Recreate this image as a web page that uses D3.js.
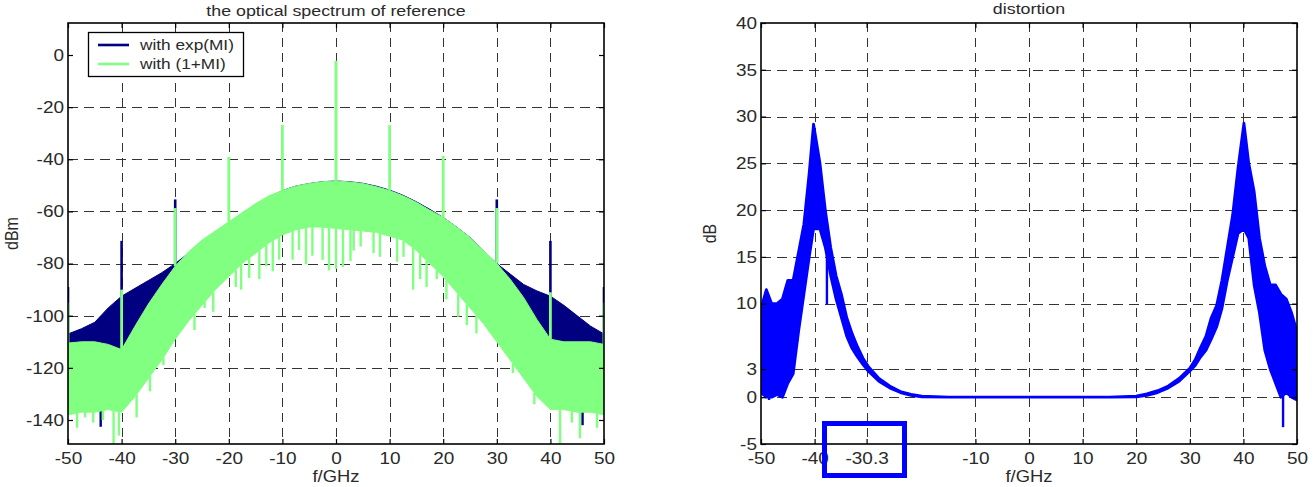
<!DOCTYPE html>
<html>
<head>
<meta charset="utf-8">
<script src="https://cdn.jsdelivr.net/npm/d3@7"></script>
<style>
  body { margin: 0; background: #fff; }
  svg { display: block; font-family: "Liberation Sans", Arial, sans-serif; }
</style>
</head>
<body>
<svg id="fig" width="1314" height="487"></svg>
<script>
// ---------------------------------------------------------------
// Data.
// ---------------------------------------------------------------

// Left plot: optical spectrum, envelope of the dense traces (GHz / dBm).
var specFreq = [-50, -47.5, -45, -42.5, -40, -37.5, -35, -32.5, -30, -27.5, -25, -22.5, -20,
    -17.5, -15, -12.5, -10, -7.5, -5, -2.5, 0, 2.5, 5, 7.5, 10, 12.5, 15, 17.5, 20,
    22.5, 25, 27.5, 30, 32.5, 35, 37.5, 40, 42.5, 45, 47.5, 50];

// with exp(MI)
var expUpper = [-107, -105, -102.5, -97, -92.5, -89.5, -86.5, -83.5, -80, -76, -72, -68, -64.5,
    -61, -57.5, -54.5, -52, -50.3, -49.3, -48.6, -48.3, -48.6, -49.2, -50.3, -51.8, -53.8, -56.3, -59.2, -62.3,
    -66, -70, -75, -80, -84, -88, -90.5, -92.5, -96, -100, -104, -107];
var expLower = [-113, -113, -113, -113, -114, -108, -100, -92, -86, -80, -76, -72, -69,
    -66, -63, -60, -58, -56, -55, -55, -55, -55, -55, -56, -58, -60, -63, -66, -69,
    -72, -76, -81, -87, -94, -101, -108, -113, -113, -113, -113, -113];

// with (1+MI)
var linUpper = [-110.5, -110, -110, -111, -113, -104, -95.5, -88, -81, -75.5, -71, -67.5, -64,
    -60.5, -57, -54, -52, -50.3, -49.3, -48.6, -48.3, -48.7, -49.3, -50.5, -52, -54, -56.5, -59.5, -62.3,
    -66, -70, -75, -80, -86, -93, -101.5, -109, -110, -110, -110, -111];
var linLower = [-138, -137, -137, -136, -137, -131, -124, -117, -109, -102, -96, -90, -85,
    -80, -76, -72, -69, -67, -66, -66, -66.5, -67, -67.5, -68, -69.5, -71, -75, -80, -85,
    -91, -97, -103, -110, -117, -124, -131, -136, -136, -137, -137, -138];

// discrete carrier lines (frequency, peak level)
var expLineF = [-50, -40, -30, 30, 40, 50];
var expLineTop = [-89, -71.3, -55.4, -55.4, -71.3, -89];
var linLineF = [-50, -40, -30, -20, -10, 0, 10, 20, 30, 40, 50];
var linLineTop = [-95, -90, -58.7, -39.1, -26.8, -2.2, -26.9, -38.7, -58.7, -91, -95];

// deep downward spikes below the dense band
var expDipF = [-43.9, 46];
var expDipBottom = [-142.6, -142];
var linDipF = [-48.3, -46.8, -45.3, -43.5, -41.5, -40.5, -37.2, -34.7, -32.2, -26.4, -24.5, -22.9,
    -18.7, -17.7, -16.2, -14.3, -13, -11.8, -10.6, -8.1, -6.9, -5.6, -4.4, -2.5, -1.3, 0, 1.3,
    2.7, 3.3, 4.6, 7, 8.2, 11.4, 12.6, 14.4, 15.7, 16.9, 18.8, 20.6, 22.8, 24.4, 26.2, 28.7,
    33, 37, 41.8, 44, 45.5, 48.7];
var linDipBottom = [-143, -139, -141, -140, -149.5, -146, -139, -129, -119, -105.5, -97, -98.5,
    -89, -90, -85.5, -86, -81, -83, -78.5, -78.5, -74.8, -80.3, -77, -78.6, -82.6, -82, -81.3,
    -79, -75, -73.5, -76, -77.4, -79.3, -77.4, -90, -86, -89, -86, -93.7, -100.4, -103.6, -106.8, -104,
    -122, -134, -149.5, -141, -147, -143];

// Right plot: distortion (GHz / dB), envelope of the trace.
var distFreq = [-50, -49, -48, -47, -46, -45, -44, -43, -42, -41, -40.2, -39, -38, -37, -36, -35,
    -34, -33, -32, -31, -30, -28, -26, -24, -22, -20, -15, 15, 20, 22, 24, 26, 28, 30, 31, 32,
    33, 34, 35, 36, 37, 38, 39, 40.1, 41, 42, 43, 44, 45, 46, 47, 48, 49, 50];
var distUpper = [9.5, 11.5, 10, 10, 10.5, 12.5, 12.5, 15.5, 18.5, 24, 29.2, 25, 20, 16, 13, 11,
    8.5, 6.8, 5.4, 4.2, 3.3, 2.0, 1.2, 0.6, 0.3, 0.12, 0, 0, 0.12, 0.35, 0.7, 1.2, 2.0, 3.1, 4.0, 5.3,
    6.5, 8.5, 9.8, 12.5, 16, 19.5, 24.5, 29.3, 25, 22, 17, 14, 12, 12, 11, 10.5, 9, 7];
var distLower = [0.5, 0, 0, 0.3, 0, 1.5, 2.5, 7, 11, 15, 18, 18, 16, 13, 10.5, 8.5,
    6.5, 5.2, 4.3, 3.5, 2.8, 1.7, 1.0, 0.5, 0.2, 0.05, 0, 0, 0.05, 0.2, 0.5, 1.0, 1.7, 2.8, 3.4, 4.3,
    5, 6.2, 7.5, 9.5, 12.5, 15, 17.5, 18, 17, 12, 9, 5, 3, 1.5, 0, 0.5, 0, -0.3];
var distDipF = [-48.5, -43.2, -37.7, 47.4];
var distDipBottom = [-0.3, 6, 9.9, -3.2];

// tick labels
var specXTicks = [-50, -40, -30, -20, -10, 0, 10, 20, 30, 40, 50];
var specYTicks = [-140, -120, -100, -80, -60, -40, -20, 0];
var distXTicks = [-50, -40, -30.3, -10, 0, 10, 20, 30, 40, 50];
var distYTicks = [-5, 0, 3, 10, 15, 20, 25, 30, 35, 40];

var seriesNames = ['with exp(MI)', 'with (1+MI)'];

// ---------------------------------------------------------------
// Layout
// ---------------------------------------------------------------
var SX = 1.15;          // the picture is stretched sideways, the text with it
var TICK_FONT = 16.5, TITLE_FONT = 15.5, LEG_FONT = 15, LABEL_FONT = 16;
var TXT = '#2a2a2a';
var NAVY = '#000080', LGREEN = '#80ff80', BLUE = '#0000ff';

var svg = d3.select('#fig');
var defs = svg.append('defs');

var leftBox = {x0: 68, x1: 604, y0: 23, y1: 444};
var rightBox = {x0: 761, x1: 1297, y0: 23, y1: 444};

function text(sel, x, y, str, size, anchor, rot) {
    return sel.append('text')
        .attr('transform', 'translate(' + x + ',' + y + ') scale(' + SX + ',1)' + (rot ? ' rotate(' + rot + ')' : ''))
        .attr('text-anchor', anchor || 'middle')
        .attr('font-size', size)
        .attr('fill', TXT)
        .text(str);
}

// Frame: clip, dashed grid (under the data), returns layers.
function makePanel(name, box, xs, ys, xTicks, yTicks) {
    var g = svg.append('g').attr('class', name);
    defs.append('clipPath').attr('id', 'clip-' + name)
        .append('rect')
        .attr('x', box.x0).attr('y', box.y0)
        .attr('width', box.x1 - box.x0).attr('height', box.y1 - box.y0);

    var grid = g.append('g').attr('class', 'grid')
        .attr('stroke', '#333').attr('stroke-width', 1);
    grid.selectAll('line.v')
        .data(xTicks.slice(1, -1))
        .enter().append('line').attr('class', 'v')
        .attr('x1', function (d) { return Math.round(xs(d)) + 0.5; })
        .attr('x2', function (d) { return Math.round(xs(d)) + 0.5; })
        .attr('y1', box.y0).attr('y2', box.y1)
        .attr('stroke-dasharray', '9,6');
    grid.selectAll('line.h')
        .data(yTicks.slice(1, -1))
        .enter().append('line').attr('class', 'h')
        .attr('y1', function (d) { return Math.round(ys(d)) + 0.5; })
        .attr('y2', function (d) { return Math.round(ys(d)) + 0.5; })
        .attr('x1', box.x0).attr('x2', box.x1)
        .attr('stroke-dasharray', '10,6');

    var plot = g.append('g').attr('clip-path', 'url(#clip-' + name + ')');
    return {g: g, plot: plot};
}

// Axes with inward ticks on all four sides, plus the box.
function finishPanel(p, box, xs, ys, xTicks, yTicks, fmt) {
    var ax = p.g.append('g').attr('class', 'axes');
    var bottom = d3.axisBottom(xs).tickValues(xTicks).tickSizeInner(-5).tickSizeOuter(0)
        .tickPadding(8).tickFormat(fmt);
    var top = d3.axisTop(xs).tickValues(xTicks).tickSizeInner(-5).tickSizeOuter(0).tickFormat('');
    var left = d3.axisLeft(ys).tickValues(yTicks).tickSizeInner(-5).tickSizeOuter(0)
        .tickPadding(3.5).tickFormat(fmt);
    var right = d3.axisRight(ys).tickValues(yTicks).tickSizeInner(-5).tickSizeOuter(0).tickFormat('');

    ax.append('g').attr('transform', 'translate(0,' + box.y1 + ')').call(bottom);
    ax.append('g').attr('transform', 'translate(0,' + box.y0 + ')').call(top);
    ax.append('g').attr('transform', 'translate(' + box.x0 + ',0)').call(left);
    ax.append('g').attr('transform', 'translate(' + box.x1 + ',0)').call(right);

    ax.selectAll('.domain').remove();
    ax.selectAll('.tick line').attr('stroke', '#000').attr('stroke-width', 1.2);
    ax.selectAll('.tick text')
        .attr('font-size', TICK_FONT).attr('font-family', null).attr('fill', TXT)
        .attr('transform', 'scale(' + SX + ',1)');

    p.g.append('rect')
        .attr('x', box.x0).attr('y', box.y0)
        .attr('width', box.x1 - box.x0).attr('height', box.y1 - box.y0)
        .attr('fill', 'none').attr('stroke', '#000').attr('stroke-width', 1.6);
}

// Dense trace drawn as the band between its envelopes.
function drawTrace(layer, xs, ys, freq, upper, lower, color, width) {
    var rows = freq.map(function (f, i) { return {f: f, hi: upper[i], lo: lower[i]}; });
    var band = d3.area()
        .x(function (d) { return xs(d.f); })
        .y0(function (d) { return ys(d.lo); })
        .y1(function (d) { return ys(d.hi); });
    layer.append('path')
        .datum(rows)
        .attr('d', band)
        .attr('fill', color)
        .attr('stroke', color)
        .attr('stroke-width', width)
        .attr('stroke-linejoin', 'round');
}

// Single vertical strokes leaving the band (carriers up, deep notches down).
function drawSticks(layer, xs, ys, fs, ends, baseScale, color, width) {
    layer.append('g').selectAll('line')
        .data(fs.map(function (f, i) { return {f: f, v: ends[i]}; }))
        .enter().append('line')
        .attr('x1', function (d) { return xs(d.f); })
        .attr('x2', function (d) { return xs(d.f); })
        .attr('y1', function (d) { return ys(baseScale(d.f)); })
        .attr('y2', function (d) { return ys(d.v); })
        .attr('stroke', color)
        .attr('stroke-width', width)
        .attr('stroke-linecap', 'butt');
}

// ---------------------------------------------------------------
// Left: the optical spectrum of reference
// ---------------------------------------------------------------
var xL = d3.scaleLinear().domain([-50, 50]).range([leftBox.x0, leftBox.x1]);
var yL = d3.scaleLinear().domain([-140, 0]).range([420, 55]);   // box spans about -149..12

var pL = makePanel('spec', leftBox, xL, yL, specXTicks, specYTicks);

var expHi = d3.scaleLinear().domain(specFreq).range(expUpper);
var expLo = d3.scaleLinear().domain(specFreq).range(expLower);
var linHi = d3.scaleLinear().domain(specFreq).range(linUpper);
var linLo = d3.scaleLinear().domain(specFreq).range(linLower);

drawTrace(pL.plot, xL, yL, specFreq, expUpper, expLower, NAVY, 1);
drawSticks(pL.plot, xL, yL, expLineF, expLineTop, expHi, NAVY, 2.6);
drawSticks(pL.plot, xL, yL, expDipF, expDipBottom, expLo, NAVY, 2.4);

drawTrace(pL.plot, xL, yL, specFreq, linUpper, linLower, LGREEN, 1);
drawSticks(pL.plot, xL, yL, linLineF, linLineTop, linHi, LGREEN, 2.8);
drawSticks(pL.plot, xL, yL, linDipF, linDipBottom, linLo, LGREEN, 2.4);

finishPanel(pL, leftBox, xL, yL, specXTicks, specYTicks, function (d) { return String(d); });

// legend
var lg = pL.g.append('g').attr('class', 'legend');
lg.append('rect')
    .attr('x', 88.5).attr('y', 32.5).attr('width', 155).attr('height', 44)
    .attr('fill', '#fff').attr('stroke', '#000').attr('stroke-width', 1.3);
[NAVY, LGREEN].forEach(function (c, i) {
    var yy = 45 + i * 19;
    lg.append('line').attr('x1', 98).attr('x2', 129).attr('y1', yy).attr('y2', yy)
        .attr('stroke', c).attr('stroke-width', 2.6);
    text(lg, 140, yy + 5, seriesNames[i], LEG_FONT, 'start');
});

text(svg, (leftBox.x0 + leftBox.x1) / 2, 16, 'the optical spectrum of reference', TITLE_FONT);
text(svg, (leftBox.x0 + leftBox.x1) / 2, 482, 'f/GHz', LABEL_FONT);
text(svg, 18, (leftBox.y0 + leftBox.y1) / 2, 'dBm', LABEL_FONT, 'middle', -90);

// ---------------------------------------------------------------
// Right: distortion
// ---------------------------------------------------------------
var xR = d3.scaleLinear().domain([-50, 50]).range([rightBox.x0, rightBox.x1]);
var yR = d3.scaleLinear().domain([-5, 40]).range([rightBox.y1, rightBox.y0]);

var pR = makePanel('dist', rightBox, xR, yR, distXTicks, distYTicks);

var distLo = d3.scaleLinear().domain(distFreq).range(distLower);
drawTrace(pR.plot, xR, yR, distFreq, distUpper, distLower, BLUE, 2.8);
drawSticks(pR.plot, xR, yR, distDipF, distDipBottom, distLo, BLUE, 2.4);

finishPanel(pR, rightBox, xR, yR, distXTicks, distYTicks, function (d) { return String(d); });

text(svg, (rightBox.x0 + rightBox.x1) / 2, 14, 'distortion', TITLE_FONT);
text(svg, (rightBox.x0 + rightBox.x1) / 2, 482, 'f/GHz', LABEL_FONT);
text(svg, 716, (rightBox.y0 + rightBox.y1) / 2, 'dB', LABEL_FONT, 'middle', -90);

// highlight box around the -30.3 tick label
svg.append('rect')
    .attr('x', 824.5).attr('y', 423.5).attr('width', 80).attr('height', 52)
    .attr('fill', 'none').attr('stroke', BLUE).attr('stroke-width', 5);
</script>
</body>
</html>
